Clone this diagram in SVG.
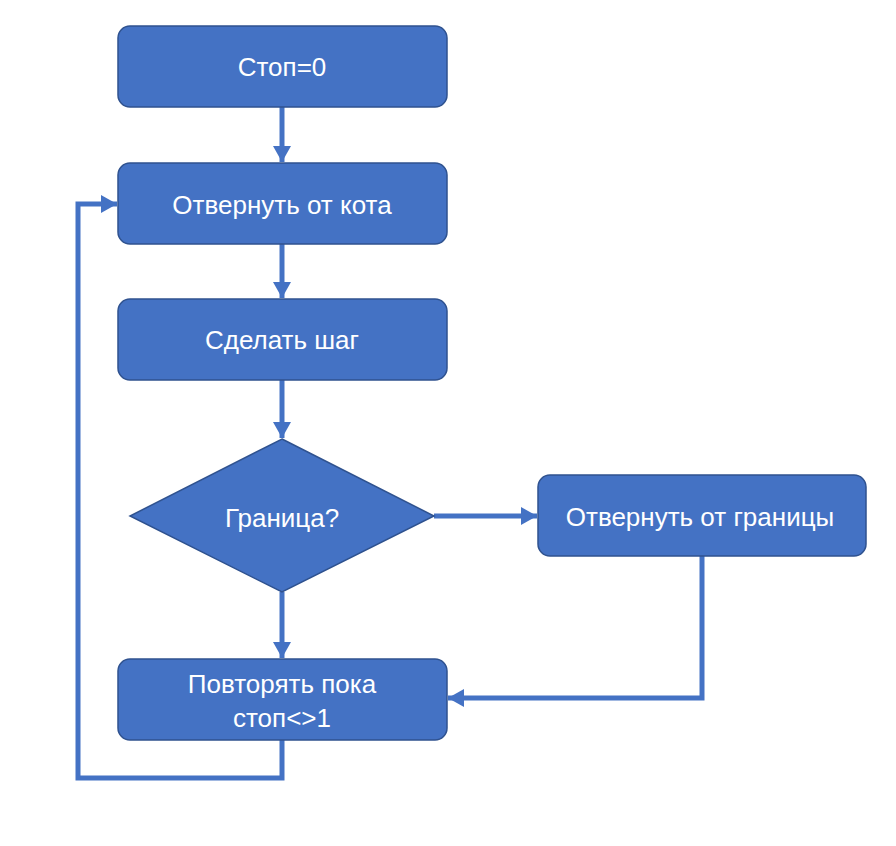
<svg xmlns="http://www.w3.org/2000/svg" width="896" height="846" viewBox="0 0 896 846">
<style>
.node{fill:#4472C4;stroke:#2F528F;stroke-width:1.5}
.lbl{fill:#fff;font-family:"Liberation Sans",Arial,sans-serif;font-size:26px;text-anchor:middle;dominant-baseline:central}
.edge{fill:none;stroke:#4472C4;stroke-width:5}
</style>
<defs>
<marker id="ah" markerUnits="userSpaceOnUse" markerWidth="18" markerHeight="20" refX="16" refY="10" orient="auto">
<polygon points="0,1 16,10 0,19" fill="#4472C4"/>
</marker>
</defs>
<rect width="896" height="846" fill="#fff"/>
<g id="connectors">
<line class="edge" x1="282" y1="107" x2="282" y2="162" marker-end="url(#ah)"/>
<line class="edge" x1="282" y1="244" x2="282" y2="298" marker-end="url(#ah)"/>
<line class="edge" x1="282" y1="380" x2="282" y2="438" marker-end="url(#ah)"/>
<line class="edge" x1="282" y1="592" x2="282" y2="658" marker-end="url(#ah)"/>
<line class="edge" x1="434" y1="516" x2="537" y2="516" marker-end="url(#ah)"/>
<polyline class="edge" points="702,556 702,698 448,698" marker-end="url(#ah)"/>
<polyline class="edge" points="282,740 282,778 78,778 78,204 117,204" marker-end="url(#ah)"/>
</g>
<g id="n1">
<rect class="node" x="118" y="26" width="329" height="81" rx="12"/>
<text class="lbl" x="282" y="67">Стоп=0</text>
</g>
<g id="n2">
<rect class="node" x="118" y="163" width="329" height="81" rx="12"/>
<text class="lbl" x="282" y="205">Отвернуть от кота</text>
</g>
<g id="n3">
<rect class="node" x="118" y="299" width="329" height="81" rx="12"/>
<text class="lbl" x="282" y="340">Сделать шаг</text>
</g>
<g id="n4">
<polygon class="node" points="282,439 434,516 282,592 130,516"/>
<text class="lbl" x="282" y="518">Граница?</text>
</g>
<g id="n5">
<rect class="node" x="538" y="475" width="328" height="81" rx="12"/>
<text class="lbl" x="700" y="517">Отвернуть от границы</text>
</g>
<g id="n6">
<rect class="node" x="118" y="659" width="329" height="81" rx="12"/>
<text class="lbl" x="282" y="684">Повторять пока</text>
<text class="lbl" x="282" y="718">стоп&lt;&gt;1</text>
</g>
</svg>
